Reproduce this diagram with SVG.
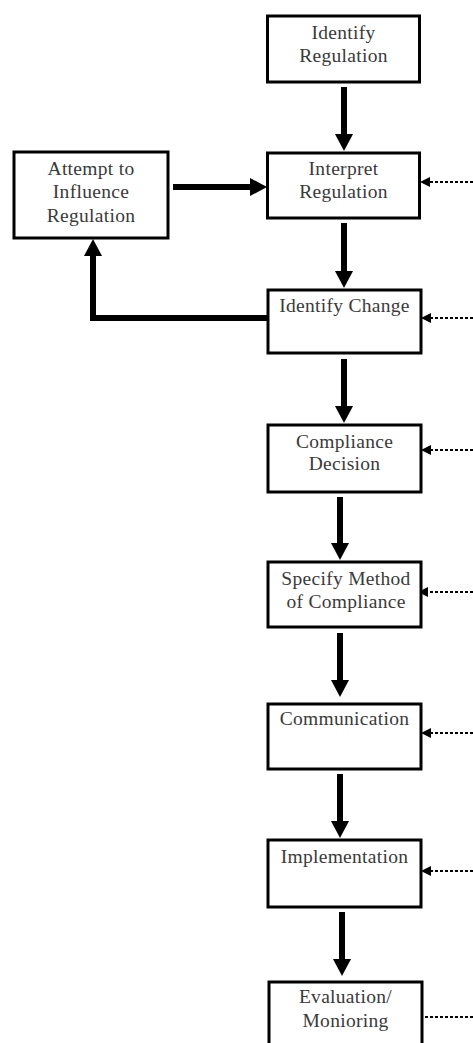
<svg xmlns="http://www.w3.org/2000/svg" width="473" height="1043" viewBox="0 0 473 1043">
<style>
.box{fill:#fff;stroke:#000;stroke-width:3}
.lbl{font-family:"Liberation Serif","Times New Roman",serif;font-size:19.5px;fill:#3a3a3a;text-anchor:middle;letter-spacing:0.3px}
.thick{stroke:#000;stroke-width:6;fill:none}
.dot{stroke:#000;stroke-width:2.2;fill:none;stroke-dasharray:3 2}
</style>
<defs>
<marker id="ah" markerUnits="userSpaceOnUse" viewBox="0 0 17 18" markerWidth="17" markerHeight="18" refX="0" refY="9" orient="auto"><path d="M0,0 L17,9 L0,18 Z" fill="#000"/></marker>
<marker id="dh" markerUnits="userSpaceOnUse" viewBox="0 0 10 10" markerWidth="10" markerHeight="10" refX="0" refY="5" orient="auto"><path d="M0,0 L10,5 L0,10 Z" fill="#000"/></marker>
</defs>
<rect width="473" height="1043" fill="#fff"/>
<g id="connectors">
<line class="thick" x1="344" y1="87" x2="344" y2="134" marker-end="url(#ah)"/>
<line class="thick" x1="173" y1="187" x2="250" y2="187" marker-end="url(#ah)"/>
<line class="thick" x1="344" y1="223" x2="344" y2="271" marker-end="url(#ah)"/>
<path class="thick" d="M268,318 H93 V256" marker-end="url(#ah)"/>
<line class="thick" x1="344" y1="359" x2="344" y2="406" marker-end="url(#ah)"/>
<line class="thick" x1="340" y1="497" x2="340" y2="543" marker-end="url(#ah)"/>
<line class="thick" x1="340" y1="633" x2="340" y2="680" marker-end="url(#ah)"/>
<line class="thick" x1="340" y1="774" x2="340" y2="821" marker-end="url(#ah)"/>
<line class="thick" x1="342" y1="912" x2="342" y2="959" marker-end="url(#ah)"/>
<line class="dot" x1="473" y1="182" x2="430" y2="182" marker-end="url(#dh)"/>
<line class="dot" x1="473" y1="318" x2="431" y2="318" marker-end="url(#dh)"/>
<line class="dot" x1="473" y1="450" x2="431" y2="450" marker-end="url(#dh)"/>
<line class="dot" x1="473" y1="592" x2="428" y2="592" marker-end="url(#dh)"/>
<line class="dot" x1="473" y1="733" x2="431" y2="733" marker-end="url(#dh)"/>
<line class="dot" x1="473" y1="871" x2="431" y2="871" marker-end="url(#dh)"/>
<line class="dot" x1="473" y1="1017" x2="423" y2="1017"/>
</g>
<g id="identify-regulation">
<rect class="box" x="267.5" y="16" width="152" height="66"/>
<text class="lbl" x="343.5" y="39">Identify</text>
<text class="lbl" x="343.5" y="62">Regulation</text>
</g>
<g id="interpret-regulation">
<rect class="box" x="267.5" y="153" width="152" height="65"/>
<text class="lbl" x="343.5" y="175">Interpret</text>
<text class="lbl" x="343.5" y="198">Regulation</text>
</g>
<g id="attempt-to-influence">
<rect class="box" x="14" y="152" width="154" height="86"/>
<text class="lbl" x="91" y="175">Attempt to</text>
<text class="lbl" x="91" y="198">Influence</text>
<text class="lbl" x="91" y="222">Regulation</text>
</g>
<g id="identify-change">
<rect class="box" x="268" y="290" width="153" height="63"/>
<text class="lbl" x="344.5" y="312">Identify Change</text>
</g>
<g id="compliance-decision">
<rect class="box" x="268" y="425" width="153" height="67"/>
<text class="lbl" x="344.5" y="448">Compliance</text>
<text class="lbl" x="344.5" y="470">Decision</text>
</g>
<g id="specify-method">
<rect class="box" x="268" y="562" width="153" height="65"/>
<text class="lbl" x="346" y="585">Specify Method</text>
<text class="lbl" x="346" y="608">of Compliance</text>
</g>
<g id="communication">
<rect class="box" x="268" y="704" width="153" height="65"/>
<text class="lbl" x="344.5" y="725">Communication</text>
</g>
<g id="implementation">
<rect class="box" x="268" y="840" width="153" height="67"/>
<text class="lbl" x="344.5" y="863">Implementation</text>
</g>
<g id="evaluation-monitoring">
<rect class="box" x="269" y="982" width="153" height="80"/>
<text class="lbl" x="345.5" y="1003">Evaluation/</text>
<text class="lbl" x="345.5" y="1027">Monioring</text>
</g>
</svg>
